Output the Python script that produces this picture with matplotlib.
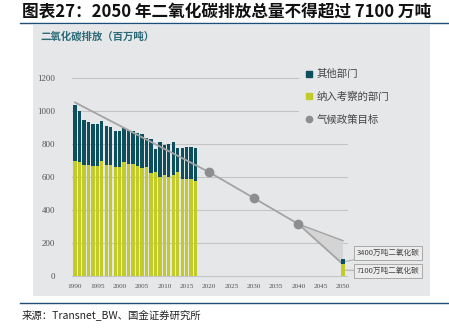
import numpy as np
import matplotlib
matplotlib.use("Agg")
import matplotlib.pyplot as plt
from matplotlib.lines import Line2D
from matplotlib.patches import Rectangle

plt.rcParams['font.family'] = ['Noto Sans CJK SC', 'DejaVu Sans']

# data ------------------------------------------------------------
years = np.arange(1990, 2018)
total = [1035, 998, 944, 934, 920, 920, 938, 910, 902, 880,
         880, 894, 882, 878, 868, 858, 834, 832, 770, 812,
         796, 800, 812, 776, 776, 780, 780, 778]
covered = [694, 690, 672, 672, 664, 664, 698, 674, 674, 658,
           660, 688, 678, 678, 668, 654, 658, 624, 628, 600,
           614, 598, 610, 628, 588, 588, 588, 574]
other = [t - c for t, c in zip(total, covered)]

target_years = [1990, 2020, 2030, 2040, 2050]
target_vals = [1052, 630, 473, 315, 71]
marker_years = [2020, 2030, 2040]
marker_vals = [630, 473, 315]

year_2050 = 2050
covered_2050 = 71
other_2050 = 34
upper_2050 = 214   # upper edge of the shaded wedge

xtick_years = list(range(1990, 2051, 5))
ytick_vals = [0, 200, 400, 600, 800, 1000, 1200]

title = "图表27：2050 年二氧化碳排放总量不得超过 7100 万吨"
subtitle = "二氧化碳排放（百万吨）"
legend_labels = ["其他部门", "纳入考察的部门", "气候政策目标"]
callouts = ["3400万吨二氧化碳", "7100万吨二氧化碳"]
source = "来源：Transnet_BW、国金证券研究所"

teal = "#0d4f5c"
lime = "#c3cb2b"
panel = "#e6e7e9"
gray_line = "#a4a4a4"

W, H = 449, 328
fig = plt.figure(figsize=(W / 100, H / 100), dpi=100)
fig.patch.set_facecolor("white")

# grey panel behind chart
fig.patches.append(Rectangle((33 / W, 1 - 296 / H), (430 - 33) / W, (296 - 25) / H,
                             transform=fig.transFigure, facecolor=panel,
                             edgecolor="none", zorder=-5))
# rules under title and above source
fig.add_artist(Line2D([20 / W, 1.0], [1 - 23 / H] * 2, color="#1f4e79", lw=1.0))
fig.add_artist(Line2D([20 / W, 1.0], [1 - 303 / H] * 2, color="#1f4e79", lw=1.0))

fig.text(22 / W, 1 - 11 / H, title, fontsize=12, fontweight="bold", style="italic",
         va="center", ha="left", color="#111111")
fig.text(40 / W, 1 - 36 / H, subtitle, fontsize=7.5, fontweight="bold",
         va="center", ha="left", color="#2b6b78")
fig.text(22 / W, 1 - 315 / H, source, fontsize=7.5, va="center", ha="left",
         color="#222222")

# axes placement: 1990 -> px 75, 2050 -> px 343; 0 -> px 276, 1200 -> px 78
px_per_year = (343 - 75) / 60
px_per_unit = (276 - 78) / 1200
x0, x1 = 1989.3, 2051.0
y0, y1 = 0, 1300
left = (75 + (x0 - 1990) * px_per_year) / W
right = (75 + (x1 - 1990) * px_per_year) / W
bottom = 1 - 276 / H
top = 1 - (276 - y1 * px_per_unit) / H
ax = fig.add_axes([left, bottom, right - left, top - bottom])
ax.set_zorder(2)
ax.set_xlim(x0, x1)
ax.set_ylim(y0, y1)
ax.patch.set_alpha(0)
for s in ax.spines.values():
    s.set_visible(False)

# gridlines (upper ones stop short of the legend)
for v in ytick_vals:
    xe = 2040 if v >= 1000 else 2051
    ax.plot([x0, xe], [v, v], color="#c4c4c4", lw=0.8, zorder=1, clip_on=False)

# bars
ax.bar(years, covered, width=0.76, color=lime, zorder=2)
ax.bar(years, other, bottom=covered, width=0.76, color=teal, zorder=2)
ax.bar([year_2050], [covered_2050], width=0.9, color=lime, zorder=4)
ax.bar([year_2050], [other_2050], bottom=[covered_2050], width=0.9, color=teal, zorder=4)

# shaded wedge
ax.fill([2040, 2050, 2050], [marker_vals[-1], upper_2050, covered_2050],
        color="#d4d4d4", zorder=2, lw=0)
ax.plot([2040, 2050], [marker_vals[-1], upper_2050], color=gray_line, lw=1.0, zorder=3)

# target line
ax.plot(target_years, target_vals, color=gray_line, lw=1.3, zorder=3)
ax.plot(marker_years, marker_vals, "o", color="#8e8e8e", ms=6, zorder=3)

ax.set_xticks(xtick_years)
ax.set_xticklabels([str(y) for y in xtick_years], fontsize=5.2, color="#555555",
                   family="Liberation Serif")
ax.set_yticks(ytick_vals)
ax.set_yticklabels([str(v) for v in ytick_vals], fontsize=6.5, color="#555555",
                   family="Liberation Serif")
ax.tick_params(axis="both", length=0)
ax.tick_params(axis="x", pad=6)
ax.tick_params(axis="y", pad=12)

# callout boxes
box = dict(boxstyle="square,pad=0.35", facecolor="#ececec", edgecolor="#a8a8a8", lw=0.7)
ax.annotate(callouts[0], xy=(year_2050 + 0.5, covered_2050 + other_2050 / 2),
            xycoords="data", xytext=(357 / W, 1 - 253 / H), textcoords="figure fraction",
            fontsize=5.5, color="#444444", va="center", ha="left", bbox=box,
            arrowprops=dict(arrowstyle="-", color="#a8a8a8", lw=0.7,
                            shrinkA=0, shrinkB=0))
ax.annotate(callouts[1], xy=(year_2050 + 0.5, covered_2050 / 2),
            xycoords="data", xytext=(357 / W, 1 - 271 / H), textcoords="figure fraction",
            fontsize=5.5, color="#444444", va="center", ha="left", bbox=box,
            arrowprops=dict(arrowstyle="-", color="#a8a8a8", lw=0.7,
                            shrinkA=0, shrinkB=0))

# legend
handles = [Line2D([], [], marker="s", ls="", color=teal, ms=4.5),
           Line2D([], [], marker="s", ls="", color=lime, ms=4.5),
           Line2D([], [], marker="o", ls="", color="#8e8e8e", ms=4.5)]
fig.legend(handles, legend_labels, loc="upper left",
           bbox_to_anchor=(300 / W, 1 - 64 / H), frameon=False, fontsize=7.5,
           labelcolor="#444444", handlelength=0.8, handletextpad=0.3,
           labelspacing=1.2, borderpad=0)

fig.savefig("out.png", dpi=100, facecolor="white")
